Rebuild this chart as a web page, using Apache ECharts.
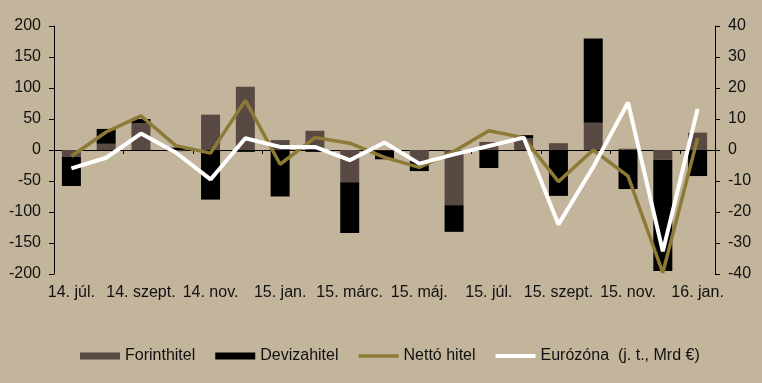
<!DOCTYPE html>
<html>
<head>
<meta charset="utf-8">
<script src="https://cdn.jsdelivr.net/npm/echarts@6/dist/echarts.min.js"></script>
<style>
html,body{margin:0;padding:0;background:#C3B59B;}
#chart{width:762px;height:383px;}
</style>
</head>
<body>
<div id="chart"></div>
<script>
const categories = ["14. júl.", "14. aug.", "14. szept.", "14. okt.", "14. nov.", "14. dec.", "15. jan.", "15. febr.", "15. márc.", "15. ápr.", "15. máj.", "15. jún.", "15. júl.", "15. aug.", "15. szept.", "15. okt.", "15. nov.", "15. dec.", "16. jan."];
const forinthitel = [-11, 10, 43, -2, 57, 102, 16, 31, -52, -1, -18, -89, 13, 19, 11, 44, 2, -16, 28];
const devizahitel = [-47, 24, 7, 4, -80, -3, -75, -3, -82, -14, -16, -43, -29, 5, -74, 136, -63, -179, -42];
const nettoHitel = [-10, 29, 55, 7, -5, 80, -23, 20, 11, -12, -28, -2, 31, 20, -51, 0, -42, -198, 19];
const eurozona = [-5.9, -2.5, 5.3, -0.8, -9.5, 3.8, 1.0, 1.0, -3.3, 2.4, -4.4, -1.4, 1.3, 4.0, -24, -5.5, 15.3, -32.7, 13.2];
const leftTicks = {min: -200, max: 200, interval: 50};
const rightTicks = {min: -40, max: 40, interval: 10};
const names = ["Forinthitel", "Devizahitel", "Nettó hitel", "Eurózóna  (j. t., Mrd €)"];

const textColor = '#111';
const font = 'Liberation Sans, Arial, sans-serif';
const chart = echarts.init(document.getElementById('chart'), null, {renderer: 'canvas'});
chart.setOption({
  backgroundColor: '#C3B59B',
  animation: false,
  grid: {left: 54, right: 47, top: 26, bottom: 109, containLabel: false},
  legend: {
    left: 75, top: 343,
    itemWidth: 40, itemHeight: 7, itemGap: 20,
    symbolKeepAspect: true,
    textStyle: {fontFamily: font, fontSize: 16, color: textColor},
    data: [
      {name: names[0], icon: 'rect'},
      {name: names[1], icon: 'rect'},
      {name: names[2], icon: 'path://M0,0H40V3.5H0Z'},
      {name: names[3], icon: 'path://M0,0H40V4H0Z'}
    ]
  },
  xAxis: [
    {
      type: 'category', data: categories, position: 'bottom',
      axisLine: {show: false, onZero: false},
      axisTick: {show: false},
      axisLabel: {interval: 1, color: textColor, fontFamily: font, fontSize: 16, margin: 11}
    },
    {
      type: 'category', data: categories, position: 'top',
      axisLine: {show: true, onZero: true, onZeroAxisIndex: 0, lineStyle: {color: '#000', width: 1}},
      axisTick: {show: true, inside: true, interval: 1, length: 4, lineStyle: {color: '#000'}},
      axisLabel: {show: false}
    }
  ],
  yAxis: [
    {
      type: 'value', position: 'left', min: leftTicks.min, max: leftTicks.max, interval: leftTicks.interval,
      splitLine: {show: false},
      axisLine: {show: true, lineStyle: {color: '#000'}},
      axisTick: {show: true, length: 5, lineStyle: {color: '#000'}},
      axisLabel: {color: textColor, fontFamily: font, fontSize: 16, margin: 13}
    },
    {
      type: 'value', position: 'right', min: rightTicks.min, max: rightTicks.max, interval: rightTicks.interval,
      splitLine: {show: false},
      axisLine: {show: true, lineStyle: {color: '#000'}},
      axisTick: {show: true, length: 5, lineStyle: {color: '#000'}},
      axisLabel: {color: textColor, fontFamily: font, fontSize: 16, margin: 13}
    }
  ],
  series: [
    {name: names[0], type: 'bar', stack: 'hitel', data: forinthitel, barWidth: 19,
     itemStyle: {color: '#584A42'}, xAxisIndex: 0, yAxisIndex: 0},
    {name: names[1], type: 'bar', stack: 'hitel', data: devizahitel, barWidth: 19,
     itemStyle: {color: '#000000'}, xAxisIndex: 0, yAxisIndex: 0},
    {name: names[2], type: 'line', data: nettoHitel, symbol: 'none',
     lineStyle: {color: '#8C7A36', width: 3.5}, itemStyle: {color: '#8C7A36'}, xAxisIndex: 0, yAxisIndex: 0},
    {name: names[3], type: 'line', data: eurozona, symbol: 'none',
     lineStyle: {color: '#FFFFFF', width: 4}, itemStyle: {color: '#FFFFFF'}, xAxisIndex: 0, yAxisIndex: 1}
  ]
});
</script>
</body>
</html>
